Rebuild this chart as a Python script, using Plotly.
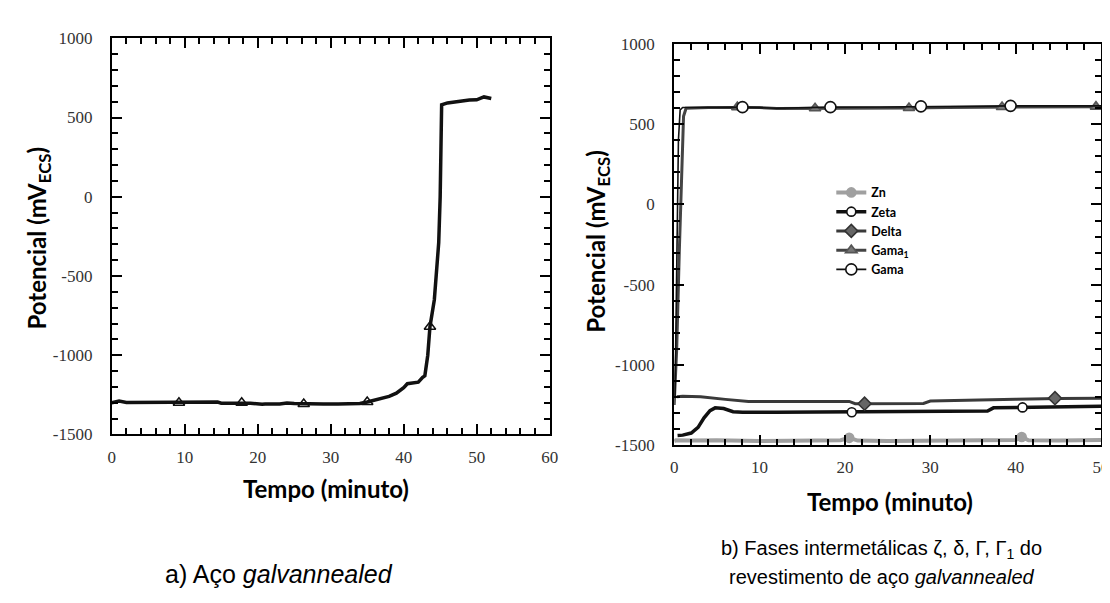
import plotly.graph_objects as go

# ---------------- data: (a) galvannealed steel ----------------
aco_t = [0, 1, 2, 4, 6, 8, 10, 12, 14.5, 15, 17, 19, 20.6, 21, 23, 24, 25, 27, 29, 31, 33, 34,
         35, 36.5, 38, 39, 40, 40.5, 41, 42, 42.6, 42.9, 43.3, 43.6, 44.2, 44.8, 45.0,
         45.2, 46, 47, 48, 49, 50, 51, 52]
aco_v = [-1300, -1290, -1298, -1298, -1298, -1298, -1298, -1296, -1296, -1303, -1303, -1303,
         -1310, -1308, -1308, -1302, -1305, -1308, -1308, -1308, -1308, -1305, -1295, -1280,
         -1260, -1240, -1205, -1180, -1178, -1170, -1140, -1130, -1000, -820, -650, -290, 0,
         580, 592, 600, 605, 610, 612, 630, 620]
aco_mk_t = [9.2, 17.8, 26.3, 35.0, 43.6]
aco_mk_v = [-1300, -1300, -1308, -1295, -820]

# ---------------- data: (b) intermetallic phases ----------------
zn_t = [0, 0.2, 2, 5, 10, 15, 19.5, 20.5, 21.5, 25, 30, 35, 40, 40.7, 41.5, 45, 50]
zn_v = [-1475, -1470, -1472, -1470, -1475, -1472, -1470, -1455, -1472, -1475, -1472, -1470,
        -1468, -1450, -1470, -1472, -1468]
zn_mk_t = [20.5, 40.7]
zn_mk_v = [-1455, -1450]

zeta_t = [0.4, 1, 2, 2.8, 3.5, 4.2, 4.8, 5.8, 6.9, 8, 12, 16, 20, 24, 28, 32, 36.7, 37.4,
          40, 44, 50]
zeta_v = [-1440, -1438, -1425, -1390, -1330, -1285, -1268, -1272, -1292, -1295, -1295, -1293,
          -1293, -1292, -1290, -1290, -1288, -1268, -1265, -1262, -1258]
zeta_mk_t = [20.8, 40.8]
zeta_mk_v = [-1295, -1265]

delta_t = [0.3, 1, 3.1, 4.5, 6, 8.7, 12, 16, 20.5, 21.2, 24, 28, 29.2, 30, 35, 40, 45, 50]
delta_v = [-1198, -1196, -1198, -1208, -1215, -1228, -1228, -1228, -1228, -1242, -1242,
           -1242, -1240, -1225, -1222, -1215, -1210, -1208]
delta_mk_t = [22.3, 44.6]
delta_mk_v = [-1242, -1208]

gama1_t = [0, 0.3, 0.6, 0.9, 1.1, 1.4, 4, 7.4, 10, 12, 16.5, 20, 27.5, 32, 38.4, 44, 50]
gama1_v = [-1250, -900, -300, 300, 550, 600, 605, 605, 605, 598, 598, 600, 602, 605, 608,
           608, 610]
gama1_mk_t = [7.4, 16.5, 27.5, 38.4, 49.4]
gama1_mk_v = [607, 600, 602, 608, 610]

gama_t = [0.1, 0.3, 0.5, 0.7, 1.0, 5, 8, 12, 18.3, 24, 28.9, 34, 39.4, 45, 50]
gama_v = [-1200, -400, 400, 590, 605, 605, 607, 600, 607, 608, 612, 612, 615, 615, 615]
gama_mk_t = [8.0, 18.3, 28.9, 39.4, 50.1]
gama_mk_v = [607, 607, 612, 615, 615]

# tick labels
x_ticks_a = [0, 10, 20, 30, 40, 50, 60]
x_ticks_b = [0, 10, 20, 30, 40, 50]
y_ticks = [-1500, -1000, -500, 0, 500, 1000]
y_ticktext = ["-1500", "-1000", "-500", "0", "500", "1000"]

W, H = 1110, 603


def px(x):
    return x / W


def py(y):
    return 1 - y / H


fig = go.Figure()

# (a)
fig.add_trace(go.Scatter(x=aco_t, y=aco_v, mode="lines", line=dict(color="#111", width=3.5),
                         showlegend=False, xaxis="x", yaxis="y"))
fig.add_trace(go.Scatter(x=aco_mk_t, y=aco_mk_v, mode="markers",
                         marker=dict(symbol="triangle-up-open", size=10, color="#111",
                                     line=dict(width=1.5)),
                         showlegend=False, xaxis="x", yaxis="y"))

# (b)
series = [
    ("Zn", zn_t, zn_v, zn_mk_t, zn_mk_v, "#a0a0a0", 4, "circle", "#a0a0a0", 9, "#a0a0a0"),
    ("Zeta", zeta_t, zeta_v, zeta_mk_t, zeta_mk_v, "#111", 3.5, "circle", "white", 9, "#111"),
    ("Delta", delta_t, delta_v, delta_mk_t, delta_mk_v, "#3a3a3a", 3, "diamond", "#666", 10, "#333"),
    ("Gama<sub>1</sub>", gama1_t, gama1_v, gama1_mk_t, gama1_mk_v, "#444", 3, "triangle-up", "#777", 10, "#555"),
    ("Gama", gama_t, gama_v, gama_mk_t, gama_mk_v, "#111", 1.6, "circle", "white", 11, "#111"),
]
for name, t, v, mt, mv, lc, lw, sym, mfc, ms, mlc in series:
    fig.add_trace(go.Scatter(x=t, y=v, mode="lines", line=dict(color=lc, width=lw),
                             showlegend=False, xaxis="x2", yaxis="y2"))
    fig.add_trace(go.Scatter(x=mt, y=mv, mode="markers", cliponaxis=False,
                             marker=dict(symbol=sym, size=ms, color=mfc,
                                         line=dict(color=mlc, width=1.6)),
                             showlegend=False, xaxis="x2", yaxis="y2"))
    fig.add_trace(go.Scatter(x=[None], y=[None], mode="lines+markers", name=name,
                             line=dict(color=lc, width=lw),
                             marker=dict(symbol=sym, size=ms, color=mfc,
                                         line=dict(color=mlc, width=1.6)),
                             xaxis="x2", yaxis="y2"))

tickfont = dict(family="Liberation Serif", size=17, color="#333")
common_x = dict(showgrid=False, zeroline=False, showline=True, linecolor="black", linewidth=2,
                mirror="allticks", ticks="inside", ticklen=10, tickwidth=2, tickcolor="black",
                tickfont=tickfont, ticklabelstandoff=6,
                minor=dict(dtick=2, tick0=0, ticks="inside", ticklen=6, tickwidth=1.6,
                           tickcolor="black"))
common_y = dict(showgrid=False, zeroline=False, showline=True, linecolor="black", linewidth=2,
                mirror="allticks", ticks="inside", ticklen=10, tickwidth=2, tickcolor="black",
                tickfont=tickfont, ticklabelstandoff=14, range=[-1500, 1000],
                tickvals=y_ticks, ticktext=y_ticktext,
                minor=dict(dtick=100, tick0=0, ticks="inside", ticklen=6, tickwidth=1.6,
                           tickcolor="black"))

fig.update_layout(
    width=W, height=H, margin=dict(l=0, r=0, t=0, b=0),
    paper_bgcolor="white", plot_bgcolor="white",
    xaxis=dict(domain=[px(101), px(544)], range=[0, 60], tickvals=x_ticks_a, anchor="y", **common_x),
    yaxis=dict(domain=[py(431), py(22)], anchor="x", **common_y),
    xaxis2=dict(domain=[px(670), px(1102)], range=[0, 50], tickvals=x_ticks_b, anchor="y2", **common_x),
    yaxis2=dict(domain=[py(442), py(28)], anchor="x2", **common_y),
    legend=dict(x=px(829), y=py(166), xanchor="left", yanchor="top",
                bgcolor="rgba(255,255,255,0)", borderwidth=0,
                font=dict(family="Lato", size=12.5, color="black", weight="bold"),
                tracegroupgap=0, itemwidth=30),
)

title_font = dict(family="Lato", size=24, color="black")
cap_a_font = dict(family="Liberation Sans", size=25, color="black")
cap_b_font = dict(family="Liberation Sans", size=20, color="black")
ann = [
    dict(text="<b>Potencial (mV<sub>ECS</sub>)</b>", x=px(27), y=py(228), textangle=-90, font=title_font),
    dict(text="<b>Potencial (mV<sub>ECS</sub>)</b>", x=px(593), y=py(232), textangle=-90, font=title_font),
    dict(text="<b>Tempo (minuto)</b>", x=px(318), y=py(487), font=title_font),
    dict(text="<b>Tempo (minuto)</b>", x=px(888), y=py(500), font=title_font),
    dict(text="a) Aço <i>galvannealed</i>", x=px(270), y=py(575), font=cap_a_font),
    dict(text="b) Fases intermetálicas ζ, δ, Γ, Γ<sub>1</sub> do", x=px(880), y=py(550), font=cap_b_font),
    dict(text="revestimento de aço <i>galvannealed</i>", x=px(880), y=py(578), font=cap_b_font),
]
for a in ann:
    fig.add_annotation(xref="paper", yref="paper", showarrow=False, xanchor="center",
                       yanchor="middle", **a)

fig.write_html("out.html")
